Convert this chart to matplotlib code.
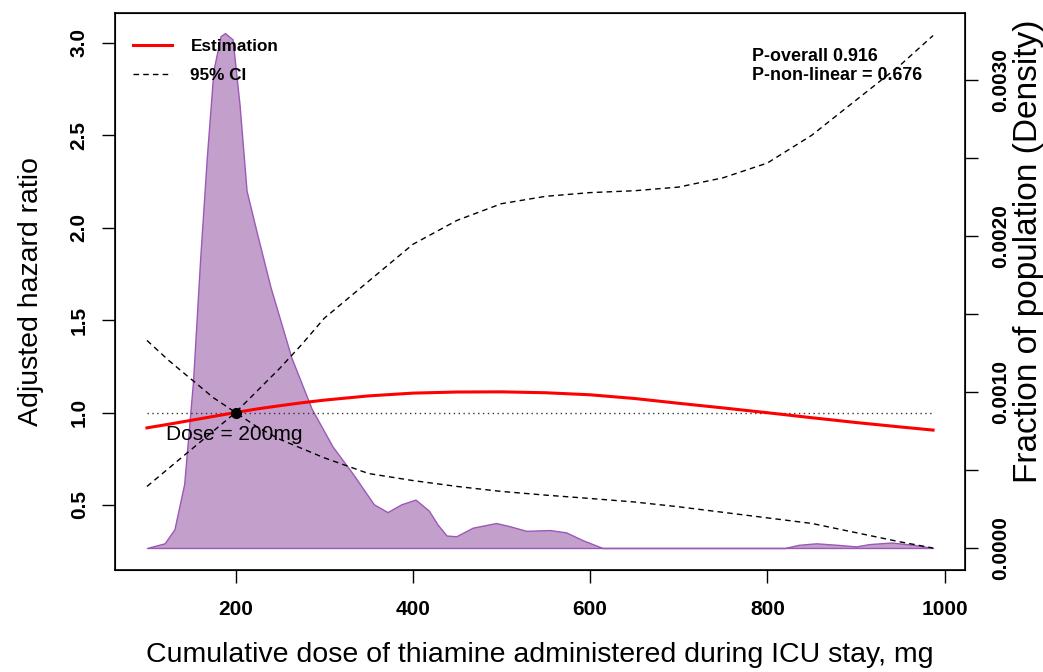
import matplotlib
matplotlib.use('Agg')
import matplotlib.pyplot as plt
import numpy as np

plt.rcParams['font.family'] = ['Liberation Sans', 'DejaVu Sans']

# restricted cubic spline estimate (HR) and 95% CI
hr_x = [100, 125, 150, 175, 200, 225, 250, 275, 300, 350, 400, 450, 500,
        550, 600, 650, 700, 750, 800, 850, 900, 950, 987]
hr_est = [0.917, 0.937, 0.958, 0.979, 1.0, 1.02, 1.037, 1.053, 1.067, 1.09,
          1.105, 1.111, 1.112, 1.107, 1.096, 1.076, 1.05, 1.025, 0.999,
          0.972, 0.946, 0.922, 0.905]
hr_upper = [0.60, 0.70, 0.80, 0.90, 1.0, 1.12, 1.24, 1.37, 1.51, 1.71, 1.91,
            2.04, 2.13, 2.17, 2.19, 2.20, 2.22, 2.27, 2.35, 2.50, 2.69, 2.88,
            3.04]
hr_lower = [1.39, 1.28, 1.18, 1.08, 1.0, 0.92, 0.855, 0.805, 0.755, 0.67,
            0.632, 0.60, 0.573, 0.553, 0.535, 0.516, 0.49, 0.46, 0.43, 0.40,
            0.35, 0.30, 0.267]

# population density of the dose
dens_x = [100, 120, 131, 142, 152, 160, 167.5, 175, 183, 188, 196.6, 204.5,
          212.4, 224, 239.5, 251, 263, 286, 309.5, 333, 356, 371.5, 387, 403,
          418, 428, 438, 449, 467.5, 494, 509, 528, 554.5, 573, 591.7, 614,
          820, 835, 855, 880, 900, 915, 940, 965, 987]
dens_y = [0, 0.03, 0.12, 0.41, 1.07, 1.85, 2.5, 3.06, 3.28, 3.30, 3.26, 2.84,
          2.29, 2.02, 1.67, 1.45, 1.22, 0.89, 0.65, 0.47, 0.28, 0.23, 0.28,
          0.31, 0.24, 0.15, 0.08, 0.075, 0.13, 0.16, 0.14, 0.11, 0.115, 0.10,
          0.05, 0, 0, 0.02, 0.03, 0.02, 0.01, 0.025, 0.035, 0.02, 0]
dens_y = [v / 1000 for v in dens_y]

ref_dose = 200
x_ticks = [200, 400, 600, 800, 1000]
y_ticks = [0.5, 1.0, 1.5, 2.0, 2.5, 3.0]
d_ticks = [0, 0.0005, 0.001, 0.0015, 0.002, 0.0025, 0.003]
d_labels = ['0.0000', '', '0.0010', '', '0.0020', '', '0.0030']

fig = plt.figure(figsize=(10.43, 6.72), dpi=100)
ax = fig.add_axes([0.1103, 0.1518, 0.8149, 0.8289])
ax2 = ax.twinx()

ax2.fill_between(dens_x, 0, dens_y, facecolor='#c39fcb', edgecolor='#9b59b6', lw=1)
ax2.set_ylim(-0.000141, 0.003429)
ax2.set_yticks(d_ticks)
ax2.set_yticklabels(d_labels, rotation=90, va='center', fontweight='bold', fontsize=15)
ax2.tick_params(axis='y', length=9.5, width=1, pad=9.5)

ax.set_zorder(ax2.get_zorder() + 1)
ax.patch.set_visible(False)

ax.plot([hr_x[0], hr_x[-1]], [1, 1], ls=(0, (1, 2.5)), color='#333333', lw=1)
ax.plot(hr_x, hr_upper, ls=(0, (4, 3)), color='black', lw=1)
ax.plot(hr_x, hr_lower, ls=(0, (4, 3)), color='black', lw=1)
ax.plot(hr_x, hr_est, color='red', lw=2.2, label='Estimation')
ax.plot([], [], ls=(0, (4, 3)), color='black', lw=1, label='95% CI')
ax.plot([ref_dose], [1.0], 'o', color='black', ms=7)
ax.text(122, 0.88, 'Dose = 200mg', fontsize=15, va='center', ha='left')

ax.set_xlim(64, 1023)
ax.set_ylim(0.148, 3.162)
ax.set_xticks(x_ticks)
ax.set_xticklabels([str(v) for v in x_ticks], fontweight='bold', fontsize=15)
ax.set_yticks(y_ticks)
ax.set_yticklabels(['%.1f' % v for v in y_ticks], rotation=90, va='center',
                   fontweight='bold', fontsize=15)
ax.tick_params(axis='both', length=9.5, width=1)
ax.tick_params(axis='x', pad=12)
ax.tick_params(axis='y', pad=9.5)

fig.text(0.5177, 0.0253, 'Cumulative dose of thiamine administered during ICU stay, mg',
         fontsize=20.5, ha='center', va='center')
fig.text(0.0297, 0.566, 'Adjusted hazard ratio', fontsize=20.5, rotation=90,
         ha='center', va='center')
fig.text(0.9865, 0.6265, 'Fraction of population (Density)', fontsize=24, rotation=90,
         ha='center', va='center')

leg = ax.legend(loc='upper left', bbox_to_anchor=(0.0212, 0.954), frameon=False,
                prop={'weight': 'bold', 'size': 12.3}, handlelength=2.3,
                handletextpad=1.06, labelspacing=0.85, borderpad=0, borderaxespad=0)

ax.text(0.749, 0.921, 'P-overall 0.916', transform=ax.transAxes,
        fontsize=12.9, fontweight='bold', va='center', ha='left')
ax.text(0.749, 0.887, 'P-non-linear = 0.676', transform=ax.transAxes,
        fontsize=12.9, fontweight='bold', va='center', ha='left')

for sp in ax.spines.values():
    sp.set_linewidth(1.2)

fig.savefig('out.png', dpi=100)
